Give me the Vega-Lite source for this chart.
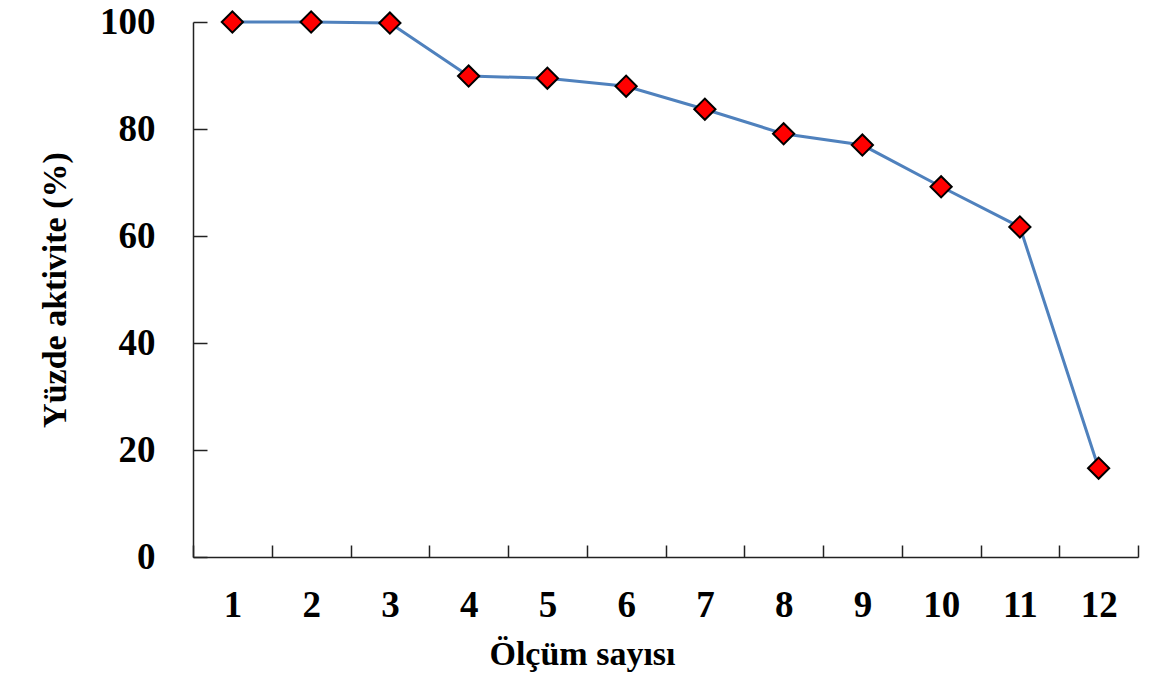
{
  "$schema": "https://vega.github.io/schema/vega-lite/v6.json",
  "autosize": {"type": "none"},
  "width": 945,
  "height": 535,
  "padding": {"left": 193, "top": 22, "right": 37, "bottom": 131},
  "background": "white",
  "config": {
    "view": {"stroke": null},
    "font": "Liberation Serif",
    "axis": {
      "grid": false,
      "domainColor": "#222222",
      "domainWidth": 1.5,
      "tickColor": "#222222",
      "tickWidth": 1.5,
      "labelFont": "Liberation Serif",
      "labelFontWeight": "bold",
      "labelFontSize": 37,
      "labelColor": "black",
      "titleFont": "Liberation Serif",
      "titleFontWeight": "bold",
      "titleFontSize": 34,
      "titleColor": "black"
    }
  },
  "data": {
    "values": [
      {"olcum": 1, "aktivite": 100},
      {"olcum": 2, "aktivite": 100},
      {"olcum": 3, "aktivite": 99.8},
      {"olcum": 4, "aktivite": 89.9},
      {"olcum": 5, "aktivite": 89.5},
      {"olcum": 6, "aktivite": 88.0},
      {"olcum": 7, "aktivite": 83.7},
      {"olcum": 8, "aktivite": 79.1},
      {"olcum": 9, "aktivite": 77.0},
      {"olcum": 10, "aktivite": 69.2},
      {"olcum": 11, "aktivite": 61.7},
      {"olcum": 12, "aktivite": 16.6}
    ]
  },
  "encoding": {
    "x": {
      "field": "olcum",
      "type": "ordinal",
      "scale": {"type": "band", "paddingInner": 0, "paddingOuter": 0},
      "axis": {
        "title": "Ölçüm sayısı",
        "labelAngle": 0,
        "tickBand": "extent",
        "tickSize": -12,
        "labelPadding": 42,
        "titlePadding": 14,
        "titleX": 389
      }
    },
    "y": {
      "field": "aktivite",
      "type": "quantitative",
      "scale": {"domain": [0, 100], "nice": false},
      "axis": {
        "title": "Yüzde aktivite (%)",
        "values": [0, 20, 40, 60, 80, 100],
        "tickSize": -14,
        "labelPadding": 52,
        "titlePadding": 27
      }
    }
  },
  "layer": [
    {"mark": {"type": "line", "color": "#4F81BD", "strokeWidth": 3}},
    {"mark": {"type": "point", "shape": "diamond", "filled": true, "fill": "#FF0000", "stroke": "black", "strokeWidth": 2, "size": 450, "opacity": 1}}
  ]
}
